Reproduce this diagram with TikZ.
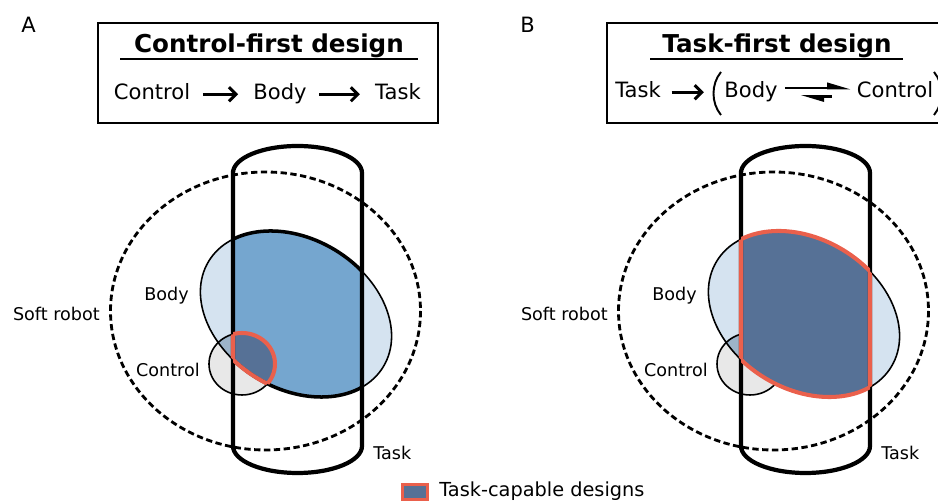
\documentclass[tikz,border=0pt]{standalone}
\usepackage{fontspec}
\setmainfont{DejaVu Sans}
\usetikzlibrary{arrows.meta}
\definecolor{bodylight}{RGB}{213,227,240}
\definecolor{bodytask}{RGB}{117,166,207}
\definecolor{ctrlgray}{RGB}{232,232,232}
\definecolor{ctrlbody}{RGB}{157,180,201}
\definecolor{capfill}{RGB}{86,113,150}
\definecolor{capred}{RGB}{234,96,76}
\def\bodypath{(296,314) ellipse [x radius=102, y radius=75, rotate=-31]}
\def\ctrlpath{(242,364) ellipse [x radius=33, y radius=31]}
\def\taskpath{(233,173) -- (233,446) arc [start angle=180, end angle=0, x radius=64.5, y radius=27] -- (362,173) arc [start angle=0, end angle=-180, x radius=64.5, y radius=27] -- cycle}
\def\robotpath{(265.5,311) ellipse [x radius=155, y radius=139]}
\tikzset{
	panelletter/.style={anchor=base west, inner sep=0pt, font=\fontsize{12}{14}\selectfont},
	titletext/.style={anchor=base, inner sep=0pt, font=\fontsize{14}{16}\selectfont\bfseries},
	rowtext/.style={anchor=base, inner sep=2pt, text height=9pt, text depth=2.5pt, font=\fontsize{12}{14}\selectfont},
	diaglabel/.style={inner sep=0pt, font=\fontsize{10}{12}\selectfont},
	flowarrow/.style={line width=1.7pt, -{Straight Barb[length=4pt, width=8pt]}, shorten <=5pt, shorten >=6.5pt},
	harparrow/.style={line width=1.5pt, -{Triangle[left, length=11pt, width=6pt]}},
	thinline/.style={line width=0.9pt},
	thickline/.style={line width=2pt},
	taskline/.style={line width=2.4pt},
	robotline/.style={line width=1.6pt, dash pattern=on 3.6pt off 2pt},
	capline/.style={capred, line width=2.3pt}
}
\begin{document}
\begin{tikzpicture}[x=0.02cm, y=-0.02cm]
	\useasboundingbox (0,0) rectangle (938,502);
	\clip (0,0) rectangle (938,502);

	% panel A
	\node[panelletter] (letterA) at (21,33) {A};
	\draw[thinline] (98,23) rectangle (438,123);
	\node[titletext] (titleA) at (269,53) {Control-first design};
	\draw[line width=0.8pt] (120,59) -- (418,59);
	\node[rowtext] (ctrlA) at (152,100) {Control};
	\node[rowtext] (bodyA) at (280,100) {Body};
	\node[rowtext] (taskA) at (398,100) {Task};
	\draw[flowarrow] (ctrlA) -- (bodyA);
	\draw[flowarrow] (bodyA) -- (taskA);

	\draw[robotline] \robotpath;
	\fill[bodylight] \bodypath;
	\fill[ctrlgray] \ctrlpath;
	\begin{scope}
		\clip \bodypath;
		\fill[ctrlbody] \ctrlpath;
	\end{scope}
	\draw[thinline] \ctrlpath;
	\draw[thinline] \bodypath;
	\begin{scope}
		\clip \taskpath;
		\fill[bodytask] \bodypath;
		\clip \bodypath;
		\fill[capfill] \ctrlpath;
	\end{scope}
	\begin{scope}
		\clip \taskpath;
		\draw[thickline] \bodypath;
	\end{scope}
	\draw[taskline] \taskpath;
	\begin{scope}
		\clip \taskpath;
		\clip \bodypath;
		\draw[capline] \ctrlpath;
	\end{scope}
	\begin{scope}
		\clip \taskpath;
		\clip \ctrlpath;
		\draw[capline] \bodypath;
	\end{scope}
	\begin{scope}
		\clip \bodypath;
		\clip \ctrlpath;
		\draw[capline] \taskpath;
	\end{scope}

	\node[diaglabel, anchor=base east] (robotA) at (100,321) {Soft robot};
	\node[diaglabel, anchor=base east] (bodylblA) at (189,301) {Body};
	\node[diaglabel, anchor=base east] (ctrllblA) at (200,377) {Control};
	\node[diaglabel, anchor=base west] (tasklblA) at (373,460) {Task};

	% panel B
	\node[panelletter] (letterB) at (520,33) {B};
	\draw[thinline] (607,23) rectangle (946,123);
	\node[titletext] (titleB) at (777,53) {Task-first design};
	\draw[line width=0.8pt] (650,59) -- (903,59);
	\node[rowtext] (taskB) at (638,98) {Task};
	\node[rowtext] (bodyB) at (751,98) {Body};
	\node[rowtext] (ctrlB) at (895,98) {Control};
	\draw[flowarrow, shorten >=9.5pt, shorten <=4pt] (taskB) -- (bodyB);
	\draw[harparrow] ([yshift=2.4pt, xshift=2pt]bodyB.east) -- ([yshift=2.4pt, xshift=-1pt]ctrlB.west);
	\draw[harparrow] ([yshift=-2.3pt, xshift=-12pt]ctrlB.west) -- ([yshift=-2.3pt, xshift=10.5pt]bodyB.east);
	\draw[line width=1.1pt] (721,72) .. controls (711,84) and (711,103) .. (721,115);
	\draw[line width=1.1pt] (934,72) .. controls (944,84) and (944,103) .. (934,115);

	\begin{scope}[shift={(508,0)}]
		\draw[robotline] \robotpath;
		\fill[bodylight] \bodypath;
		\fill[ctrlgray] \ctrlpath;
		\begin{scope}
			\clip \bodypath;
			\fill[ctrlbody] \ctrlpath;
		\end{scope}
		\draw[thinline] \ctrlpath;
		\draw[thinline] \bodypath;
		\begin{scope}
			\clip \taskpath;
			\fill[capfill] \bodypath;
		\end{scope}
		\draw[taskline] \taskpath;
		\begin{scope}
			\clip \taskpath;
			\draw[capline] \bodypath;
		\end{scope}
		\begin{scope}
			\clip \bodypath;
			\draw[capline] \taskpath;
		\end{scope}

		\node[diaglabel, anchor=base east] (robotB) at (100,321) {Soft robot};
		\node[diaglabel, anchor=base east] (bodylblB) at (189,301) {Body};
		\node[diaglabel, anchor=base east] (ctrllblB) at (200,377) {Control};
		\node[diaglabel, anchor=base west] (tasklblB) at (373,460) {Task};
	\end{scope}

	% legend
	\node[draw=capred, fill=capfill, line width=1.8pt, inner sep=0pt, minimum width=0.5cm, minimum height=0.3cm] (legbox) at (415,492) {};
	\node[anchor=base west, inner sep=0pt, font=\fontsize{11}{13}\selectfont] (legtext) at (439,497) {Task-capable designs};
\end{tikzpicture}
\end{document}
